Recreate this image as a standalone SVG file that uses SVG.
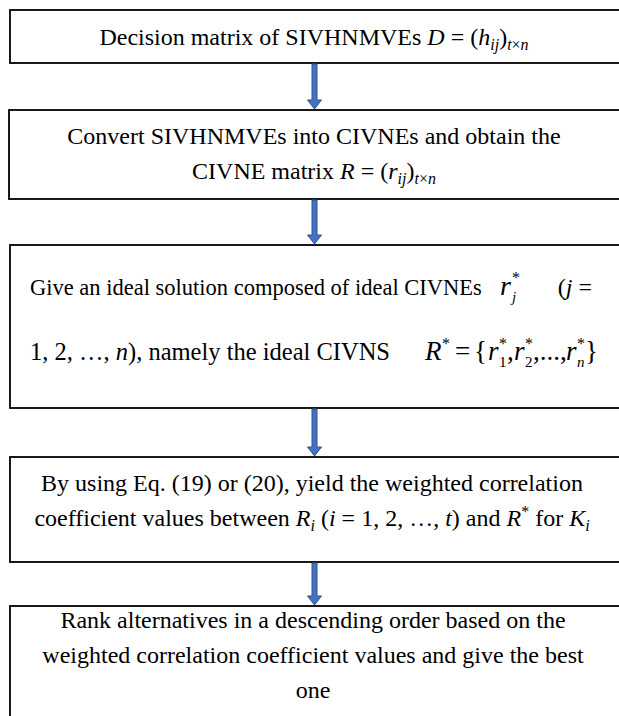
<svg xmlns="http://www.w3.org/2000/svg" width="619" height="716" viewBox="0 0 619 716">
  <defs>
    <style>
      .box { fill: #ffffff; stroke: #000000; stroke-width: 1.8; }
      text { font-family: 'Liberation Serif', 'Times New Roman', 'DejaVu Serif', serif; fill: #000000; }
      .t { font-size: 24px; }
      .m { font-style: italic; }
      .up { font-style: normal; }
      .i { font-style: italic; }
      .arrow { fill: #4472C4; stroke: #2F528F; stroke-width: 1; }
    </style>
  </defs>
  <rect width="619" height="716" fill="#ffffff"/>

  <!-- process steps -->
  <g id="step1">
    <rect class="box" x="10" y="10" width="620" height="53"/>
    <text class="t" x="314" y="45" text-anchor="middle">Decision matrix of SIVHNMVEs <tspan class="i">D</tspan> = (<tspan class="i">h</tspan><tspan class="i" font-size="16" dy="5">ij</tspan><tspan dy="-5">)</tspan><tspan font-size="16" dy="5"><tspan class="i">t</tspan>×<tspan class="i">n</tspan></tspan></text>
  </g>

  <g id="step2">
    <rect class="box" x="9" y="110" width="620" height="89"/>
    <text class="t" x="314" y="144" text-anchor="middle">Convert SIVHNMVEs into CIVNEs and obtain the</text>
    <text class="t" x="314" y="179" text-anchor="middle">CIVNE matrix <tspan class="i">R</tspan> = (<tspan class="i">r</tspan><tspan class="i" font-size="16" dy="5">ij</tspan><tspan dy="-5">)</tspan><tspan font-size="16" dy="5"><tspan class="i">t</tspan>×<tspan class="i">n</tspan></tspan></text>
  </g>

  <g id="step3">
    <rect class="box" x="10" y="245" width="620" height="163"/>
    <text x="30" y="295" style="font-size:22.5px">Give an ideal solution composed of ideal CIVNEs</text>
    <text class="m" x="500" y="295" font-size="28">r</text>
    <text class="up" x="512" y="283" font-size="16">*</text>
    <text class="m" x="512" y="302" font-size="15">j</text>
    <text class="t" x="592" y="295" text-anchor="end">(<tspan class="i">j</tspan> =</text>

    <text x="30" y="360" style="font-size:24.5px">1, 2, …, <tspan class="i">n</tspan>), namely the ideal CIVNS</text>
    <text class="m" x="425" y="360" font-size="27">R</text>
    <text class="up" x="442" y="349" font-size="16">*</text>
    <text class="up" x="455" y="360" font-size="27">=</text>
    <text class="up" x="474" y="360" font-size="27">{</text>
    <text class="m" x="488" y="360" font-size="27">r</text>
    <text class="up" x="499" y="349" font-size="16">*</text>
    <text class="up" x="499" y="367" font-size="15">1</text>
    <text class="up" x="507" y="360" font-size="27">,</text>
    <text class="m" x="514" y="360" font-size="27">r</text>
    <text class="up" x="525" y="349" font-size="16">*</text>
    <text class="up" x="525" y="367" font-size="15">2</text>
    <text class="up" x="533" y="360" font-size="27">,...,</text>
    <text class="m" x="566" y="360" font-size="27">r</text>
    <text class="up" x="577" y="349" font-size="16">*</text>
    <text class="m" x="577" y="367" font-size="15">n</text>
    <text class="up" x="585" y="360" font-size="27">}</text>
  </g>

  <g id="step4">
    <rect class="box" x="10" y="457" width="620" height="105"/>
    <text class="t" x="312" y="491" text-anchor="middle">By using Eq. (19) or (20), yield the weighted correlation</text>
    <text class="t" x="312" y="526" text-anchor="middle">coefficient values between <tspan class="i">R</tspan><tspan class="i" font-size="16" dy="5">i</tspan><tspan dy="-5"> (</tspan><tspan class="i">i</tspan> = 1, 2, …, <tspan class="i">t</tspan>) and <tspan class="i">R</tspan><tspan font-size="16" dy="-9">*</tspan><tspan dy="9"> for </tspan><tspan class="i">K</tspan><tspan class="i" font-size="16" dy="5">i</tspan></text>
  </g>

  <g id="step5">
    <rect class="box" x="10" y="606" width="620" height="120"/>
    <text class="t" x="313" y="628" text-anchor="middle">Rank alternatives in a descending order based on the</text>
    <text class="t" x="313" y="663" text-anchor="middle">weighted correlation coefficient values and give the best</text>
    <text class="t" x="313" y="698" text-anchor="middle">one</text>
  </g>

  <!-- flow arrows -->
  <g id="connectors">
    <path class="arrow" d="M 312 64 L 317 64 L 317 100 L 321.5 100 L 314.5 109 L 307.5 100 L 312 100 Z"/>
    <path class="arrow" d="M 312 200 L 317 200 L 317 235 L 321.5 235 L 314.5 244 L 307.5 235 L 312 235 Z"/>
    <path class="arrow" d="M 312 409 L 317 409 L 317 447 L 321.5 447 L 314.5 456 L 307.5 447 L 312 447 Z"/>
    <path class="arrow" d="M 312 563 L 317 563 L 317 596 L 321.5 596 L 314.5 605 L 307.5 596 L 312 596 Z"/>
  </g>
</svg>
